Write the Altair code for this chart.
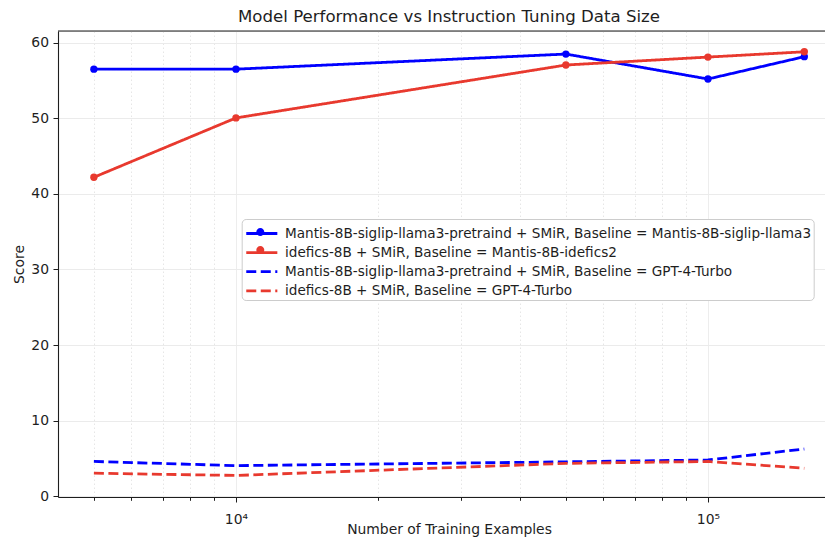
import altair as alt
import pandas as pd

# ---- data ----
x_examples = [5000, 10000, 50000, 100000, 160000]
series_names = [
    "Mantis-8B-siglip-llama3-pretraind + SMiR, Baseline = Mantis-8B-siglip-llama3",
    "idefics-8B + SMiR, Baseline = Mantis-8B-idefics2",
    "Mantis-8B-siglip-llama3-pretraind + SMiR, Baseline = GPT-4-Turbo",
    "idefics-8B + SMiR, Baseline = GPT-4-Turbo",
]
mantis_vs_mantis = [56.5, 56.5, 58.5, 55.2, 58.15]
idefics_vs_mantis = [42.2, 50.05, 57.05, 58.1, 58.8]
mantis_vs_gpt4 = [4.6, 4.05, 4.55, 4.8, 6.25]
idefics_vs_gpt4 = [3.05, 2.75, 4.35, 4.6, 3.7]
series_values = [mantis_vs_mantis, idefics_vs_mantis, mantis_vs_gpt4, idefics_vs_gpt4]
series_colors = ["#0000ff", "#e8392e", "#0000ff", "#e8392e"]
series_dash = [[1, 0], [1, 0], [10, 4.5], [10, 4.5]]
solid_series = series_names[:2]
solid_colors = series_colors[:2]

major_ticks = [10000, 100000]
major_labels = ["10\u2074", "10\u2075"]
minor_ticks = [5000, 6000, 7000, 8000, 9000, 20000, 30000, 40000, 50000,
               60000, 70000, 80000, 90000]
y_ticks = [0, 10, 20, 30, 40, 50, 60]

rows = []
for name, vals in zip(series_names, series_values):
    for xv, yv in zip(x_examples, vals):
        rows.append({"examples": xv, "score": yv, "series": name})
df = pd.DataFrame(rows)

FONT = "DejaVu Sans"
W, H = 767, 466
TXT = "#1e1e1e"

label_expr = " : ".join(
    f"datum.value == {v} ? '{l}'" for v, l in zip(major_ticks, major_labels)
) + " : ''"
major_test = " || ".join(f"datum.value == {v}" for v in major_ticks)

x_scale = alt.Scale(type="log", domain=[4197, 177000], nice=False)
y_scale = alt.Scale(domain=[-0.1, 61.55], nice=False, zero=False)

x_axis = alt.Axis(
    values=sorted(minor_ticks + major_ticks),
    labelExpr=label_expr,
    title="Number of Training Examples",
    grid=True,
    gridColor="#e6e6e6",
    gridDash={"condition": {"test": major_test, "value": [1, 0]}, "value": [1.5, 2.5]},
    gridWidth=1,
    tickSize={"condition": {"test": major_test, "value": 5}, "value": 3.3},
    tickColor=TXT,
    tickWidth=1,
    domainColor=TXT,
    domainWidth=1.1,
    labelFontSize=13.9,
    labelFont=FONT,
    labelColor=TXT,
    labelBaseline="alphabetic",
    labelPadding=21,
    labelFlush=False,
    labelOverlap=False,
    titleFont=FONT,
    titleFontSize=13.9,
    titleFontWeight="normal",
    titleColor=TXT,
    titleBaseline="alphabetic",
    titleX=391,
    titleY=36.5,
)
y_axis = alt.Axis(
    values=y_ticks,
    title="Score",
    grid=True,
    gridColor="#ebebeb",
    tickSize=5,
    tickColor=TXT,
    tickWidth=1,
    domainColor=TXT,
    domainWidth=1.1,
    labelFontSize=13.9,
    labelFont=FONT,
    labelColor=TXT,
    labelPadding=4.5,
    titleFont=FONT,
    titleFontSize=13.9,
    titleFontWeight="normal",
    titleColor=TXT,
    titleBaseline="alphabetic",
    titleX=-34.7,
    titleY=H / 2,
)

line_path = "M-1.48,0H1.48"
circle_path = "M0.38,0A0.38,0.38,0,1,1,-0.38,0A0.38,0.38,0,1,1,0.38,0Z"
LEG_X, LEG_Y = 183.7, 188
common_leg = dict(
    title=None,
    orient="none",
    legendX=LEG_X,
    legendY=LEG_Y,
    labelLimit=0,
    labelFont=FONT,
    labelFontSize=13.6,
    labelColor=TXT,
    symbolSize=441,
    symbolOffset=5.6,
    labelOffset=11.2,
    padding=2.5,
    rowPadding=0.1,
    cornerRadius=4,
)
main_legend = alt.Legend(
    symbolType=line_path,
    symbolStrokeWidth=2.8,
    fillColor="white",
    strokeColor="#cccccc",
    **common_leg,
)
marker_legend = alt.Legend(
    symbolType=circle_path,
    symbolStrokeWidth=0,
    labelExpr="''",
    fillColor="transparent",
    strokeColor="transparent",
    zindex=2,
    **common_leg,
)

lines = alt.Chart(df).mark_line(strokeWidth=2.8).encode(
    x=alt.X("examples:Q", scale=x_scale, axis=x_axis),
    y=alt.Y("score:Q", scale=y_scale, axis=y_axis),
    color=alt.Color("series:N", scale=alt.Scale(domain=series_names, range=series_colors),
                    legend=main_legend, sort=series_names),
    strokeDash=alt.StrokeDash("series:N",
                              scale=alt.Scale(domain=series_names, range=series_dash),
                              legend=main_legend, sort=series_names),
)

points = alt.Chart(df).transform_filter(
    alt.FieldOneOfPredicate(field="series", oneOf=solid_series)
).mark_point(filled=True, size=54, opacity=1).encode(
    x=alt.X("examples:Q", scale=x_scale),
    y=alt.Y("score:Q", scale=y_scale),
    color=alt.Color("series:N", scale=alt.Scale(domain=solid_series, range=solid_colors),
                    legend=marker_legend, sort=solid_series),
)

top_spine = alt.Chart(alt.Data(values=[{}])).mark_rule(
    color=TXT, strokeWidth=1.1
).encode(x=alt.value(0), x2=alt.value(W), y=alt.value(0))

chart = alt.layer(lines, points, top_spine).resolve_scale(
    color="independent", strokeDash="independent"
).properties(
    width=W,
    height=H,
    title=alt.Title(
        "Model Performance vs Instruction Tuning Data Size",
        font=FONT,
        fontSize=16.6,
        fontWeight="normal",
        color=TXT,
        anchor="middle",
        offset=5,
        dx=7.5,
    ),
    autosize=alt.AutoSizeParams(type="none"),
    padding={"left": 50, "top": 23, "right": 0, "bottom": 42},
).configure_view(stroke=None).configure(background="white")

chart.save("out.html", embed_options={"renderer": "svg", "actions": False})
